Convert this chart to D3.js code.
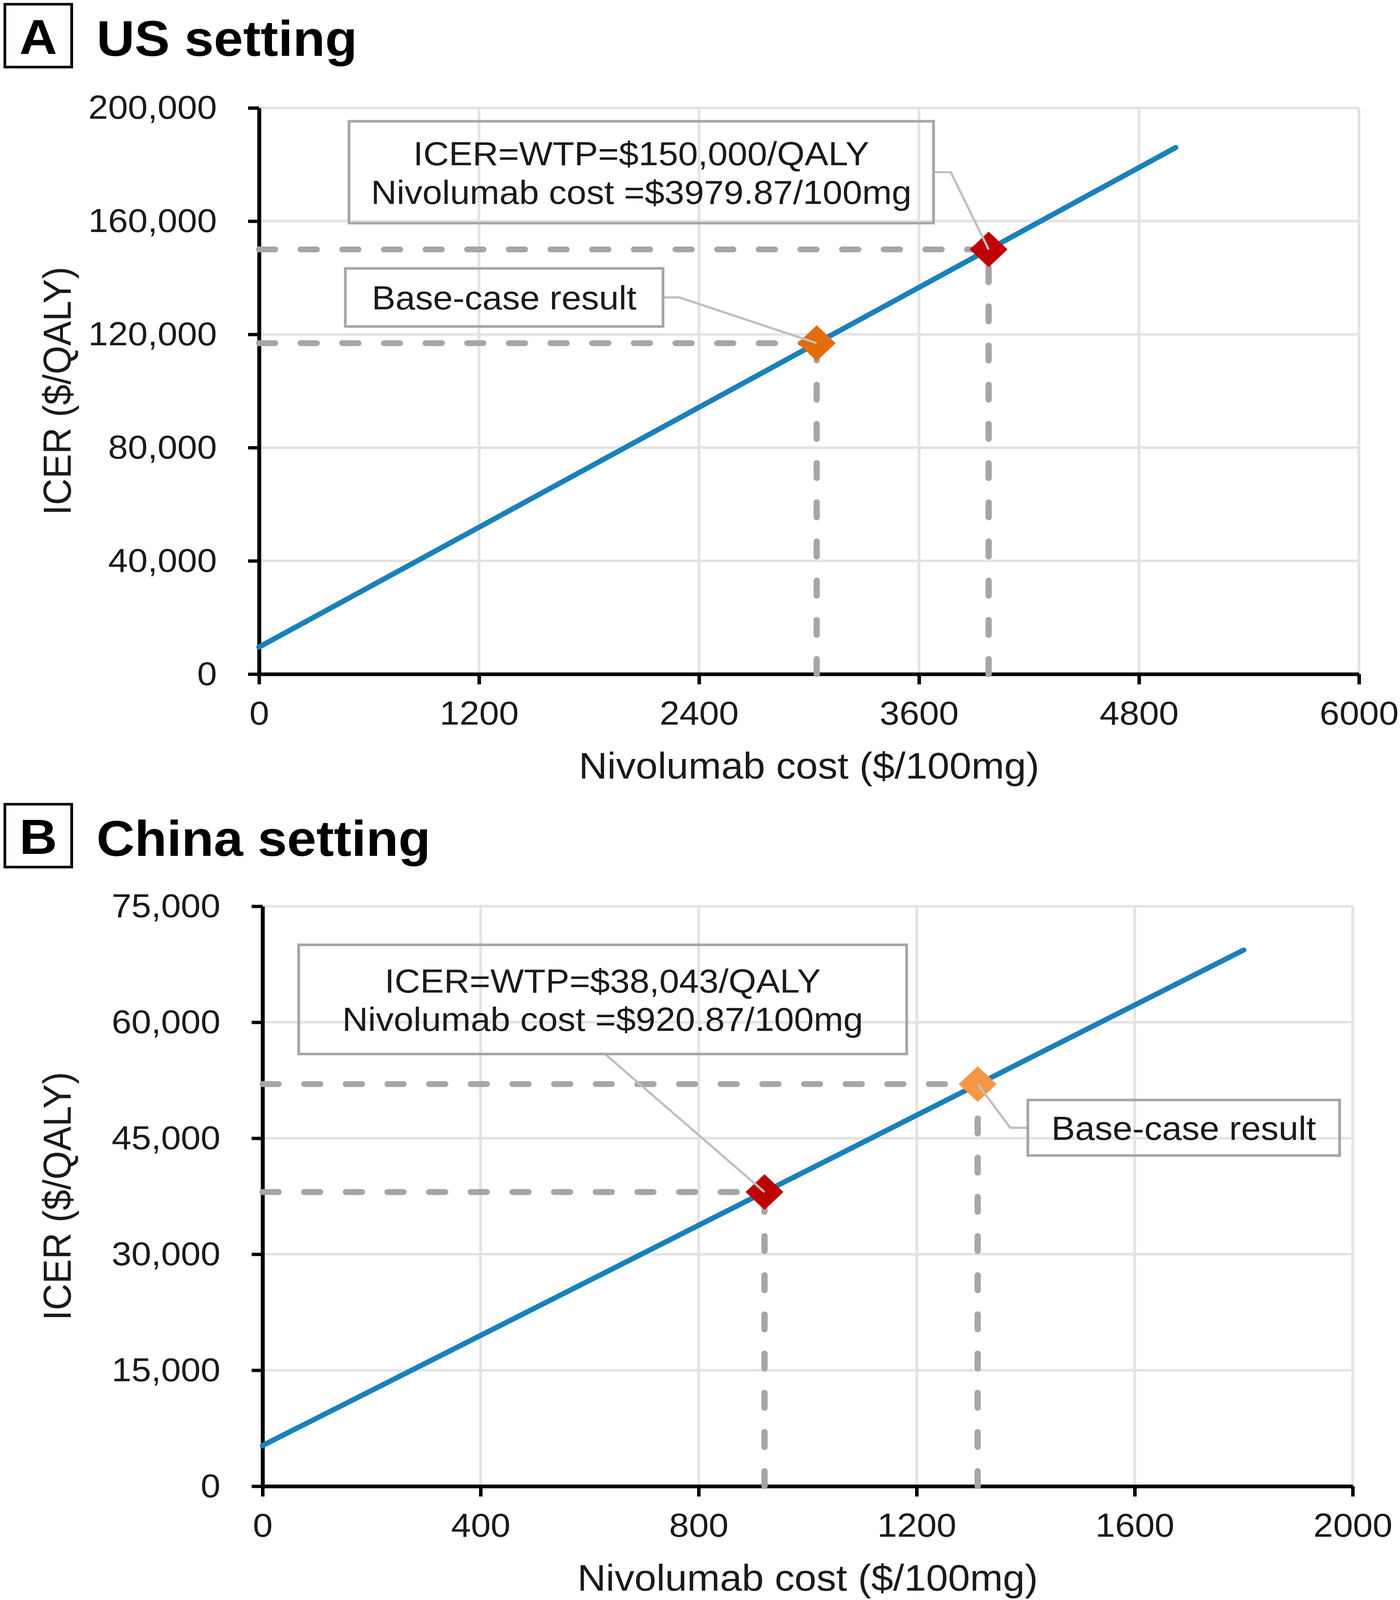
<!DOCTYPE html>
<html>
<head>
<meta charset="utf-8">
<script src="https://cdn.jsdelivr.net/npm/d3@7"></script>
<style>
  html, body { margin: 0; padding: 0; background: #fff; overflow: hidden; }
  text { font-family: "Liberation Sans", Arial, sans-serif; }
</style>
</head>
<body>
<script>
var width = 3583;
var height = 4352;

// panel A, US setting
var usCost = [0, 5000];
var usIcer = [9540, 186000];
var usWtpPoint = [3979.87, 150000];
var usBasePoint = [3042, 116900];
var usXTicks = [0, 1200, 2400, 3600, 4800, 6000];
var usYTicks = [0, 40000, 80000, 120000, 160000, 200000];
var usWtpLabel = ['ICER=WTP=$150,000/QALY', 'Nivolumab cost =$3979.87/100mg'];

// panel B, China setting
var cnCost = [0, 1800];
var cnIcer = [5260, 69340];
var cnWtpPoint = [920.87, 38043];
var cnBasePoint = [1312, 52000];
var cnXTicks = [0, 400, 800, 1200, 1600, 2000];
var cnYTicks = [0, 15000, 30000, 45000, 60000, 75000];
var cnWtpLabel = ['ICER=WTP=$38,043/QALY', 'Nivolumab cost =$920.87/100mg'];

var baseLabel = ['Base-case result'];
var xTitle = 'Nivolumab cost ($/100mg)';
var yTitle = 'ICER ($/QALY)';

var panels = [
    {
        letter: 'A', title: 'US setting', boxTop: 8,
        left: 663, right: 3478, top: 293.5, bottom: 1833.5,
        cost: usCost, icer: usIcer, wtp: usWtpPoint, base: usBasePoint,
        xTicks: usXTicks, yTicks: usYTicks, baseColor: '#e46c0a',
        notes: [
            { lines: usWtpLabel, target: usWtpPoint, cx: 2085, cy: 177300, w: 1496, h: 277, side: 'right', elbow: 44 },
            { lines: baseLabel, target: usBasePoint, cx: 1337, cy: 133050, w: 813, h: 158, side: 'right', elbow: 42 }
        ]
    },
    {
        letter: 'B', title: 'China setting', boxTop: 2184,
        left: 672, right: 3462, top: 2465, bottom: 4042.5,
        cost: cnCost, icer: cnIcer, wtp: cnWtpPoint, base: cnBasePoint,
        xTicks: cnXTicks, yTicks: cnYTicks, baseColor: '#f79646',
        notes: [
            { lines: cnWtpLabel, target: cnWtpPoint, cx: 624, cy: 62950, w: 1556, h: 297, side: 'bottom', elbow: 6 },
            { lines: baseLabel, target: cnBasePoint, cx: 1690, cy: 46355, w: 798, h: 151, side: 'left', elbow: 45 }
        ]
    }
];

// the whole drawing is laid out on a 3583x4352 grid and stretched to the window
var svg = d3.select('body').append('svg')
    .attr('viewBox', '0 0 ' + width + ' ' + height)
    .attr('preserveAspectRatio', 'none')
    .style('width', '100vw')
    .style('height', '100vh')
    .style('display', 'block');

svg.append('rect').attr('width', width).attr('height', height).attr('fill', '#fff');

var diamond = function (h) { return 'M0,' + (-h) + 'L' + h + ',0L0,' + h + 'L' + (-h) + ',0Z'; };

panels.forEach(function (p) {
    var x = d3.scaleLinear().domain([p.xTicks[0], p.xTicks[p.xTicks.length - 1]]).range([p.left, p.right]);
    var y = d3.scaleLinear().domain([p.yTicks[0], p.yTicks[p.yTicks.length - 1]]).range([p.bottom, p.top]);
    var g = svg.append('g');

    // panel letter and title
    g.append('rect')
        .attr('x', 12.5).attr('y', p.boxTop + 3.5)
        .attr('width', 171).attr('height', 171)
        .attr('fill', 'none').attr('stroke', '#000').attr('stroke-width', 7);
    g.append('text')
        .attr('x', 98).attr('y', p.boxTop + 139)
        .attr('text-anchor', 'middle')
        .attr('font-size', 134).attr('font-weight', 'bold')
        .text(p.letter);
    g.append('text')
        .attr('x', 247).attr('y', p.boxTop + 144)
        .attr('font-size', 135).attr('font-weight', 'bold')
        .text(p.title);

    // gridlines
    g.append('g').selectAll('line')
        .data(p.xTicks.slice(1))
        .enter().append('line')
        .attr('x1', function (d) { return x(d); })
        .attr('x2', function (d) { return x(d); })
        .attr('y1', y.range()[0]).attr('y2', y.range()[1])
        .attr('stroke', '#e3e3e3').attr('stroke-width', 7);
    g.append('g').selectAll('line')
        .data(p.yTicks.slice(1))
        .enter().append('line')
        .attr('y1', function (d) { return y(d); })
        .attr('y2', function (d) { return y(d); })
        .attr('x1', x.range()[0]).attr('x2', x.range()[1])
        .attr('stroke', '#e3e3e3').attr('stroke-width', 7);

    // axes
    var xAxis = g.append('g')
        .attr('transform', 'translate(0,' + p.bottom + ')')
        .call(d3.axisBottom(x).tickValues(p.xTicks).tickFormat(d3.format('d'))
            .tickSize(28).tickSizeOuter(0).tickPadding(45));
    var yAxis = g.append('g')
        .attr('transform', 'translate(' + p.left + ',0)')
        .call(d3.axisLeft(y).tickValues(p.yTicks).tickFormat(d3.format(','))
            .tickSize(28).tickSizeOuter(0).tickPadding(80));
    [xAxis, yAxis].forEach(function (a) {
        a.select('.domain').attr('stroke', '#000').attr('stroke-width', 10);
        a.selectAll('.tick line').attr('stroke', '#000').attr('stroke-width', 9);
        a.selectAll('.tick text')
            .attr('font-size', 91)
            .attr('font-family', '"Liberation Sans", Arial, sans-serif')
            .attr('fill', '#1a1a1a');
    });

    g.append('text')
        .attr('x', (p.left + p.right) / 2).attr('y', p.bottom + 284)
        .attr('text-anchor', 'middle').attr('font-size', 101).attr('fill', '#1a1a1a')
        .text(xTitle);
    g.append('text')
        .attr('transform', 'translate(181,' + (p.top + p.bottom) / 2 + ') rotate(-90)')
        .attr('text-anchor', 'middle').attr('font-size', 100).attr('fill', '#1a1a1a')
        .text(yTitle);

    // dashed guides
    var pts = [p.base, p.wtp];
    var dash = g.append('g')
        .attr('stroke', '#a6a6a6').attr('stroke-width', 16)
        .attr('stroke-dasharray', '41 65.6').attr('stroke-linecap', 'round').attr('fill', 'none');
    dash.selectAll('line.h').data(pts).enter().append('line')
        .attr('x1', x(0)).attr('y1', function (d) { return y(d[1]); })
        .attr('x2', function (d) { return x(d[0]); }).attr('y2', function (d) { return y(d[1]); });
    dash.selectAll('line.v').data(pts).enter().append('line')
        .attr('x1', function (d) { return x(d[0]); }).attr('y1', y(0))
        .attr('x2', function (d) { return x(d[0]); }).attr('y2', function (d) { return y(d[1]); });

    // ICER line
    var lineData = p.cost.map(function (c, i) { return [c, p.icer[i]]; });
    g.append('path')
        .datum(lineData)
        .attr('d', d3.line().x(function (d) { return x(d[0]); }).y(function (d) { return y(d[1]); }))
        .attr('fill', 'none').attr('stroke', '#1a80bb').attr('stroke-width', 14)
        .attr('stroke-linecap', 'round');

    // points
    g.selectAll('path.pt')
        .data([{ d: p.base, c: p.baseColor }, { d: p.wtp, c: '#c00000' }])
        .enter().append('path')
        .attr('class', 'pt')
        .attr('transform', function (o) { return 'translate(' + x(o.d[0]) + ',' + y(o.d[1]) + ')'; })
        .attr('d', diamond(48.5))
        .attr('fill', function (o) { return o.c; });

    // callouts
    p.notes.forEach(function (n) {
        var bx = x(n.cx), by = y(n.cy);
        var tx = x(n.target[0]), ty = y(n.target[1]);
        var path;
        if (n.side === 'right') {
            path = [[bx + n.w / 2, by], [bx + n.w / 2 + n.elbow, by], [tx, ty]];
        } else if (n.side === 'left') {
            path = [[bx - n.w / 2, by], [bx - n.w / 2 - n.elbow, by], [tx, ty]];
        } else {
            path = [[bx + n.elbow, by + n.h / 2], [tx, ty]];
        }
        g.append('path')
            .attr('d', d3.line()(path))
            .attr('fill', 'none').attr('stroke', '#bfbfbf').attr('stroke-width', 6);
        g.append('rect')
            .attr('x', bx - n.w / 2).attr('y', by - n.h / 2)
            .attr('width', n.w).attr('height', n.h)
            .attr('fill', 'none').attr('stroke', '#a6a6a6').attr('stroke-width', 7);
        var first = n.lines.length === 1 ? by + 33 : by - 19;
        g.selectAll(null).data(n.lines).enter().append('text')
            .attr('x', bx)
            .attr('y', function (d, i) { return first + i * 105; })
            .attr('text-anchor', 'middle')
            .attr('font-size', 91).attr('fill', '#1a1a1a')
            .text(function (d) { return d; });
    });
});
</script>
</body>
</html>
